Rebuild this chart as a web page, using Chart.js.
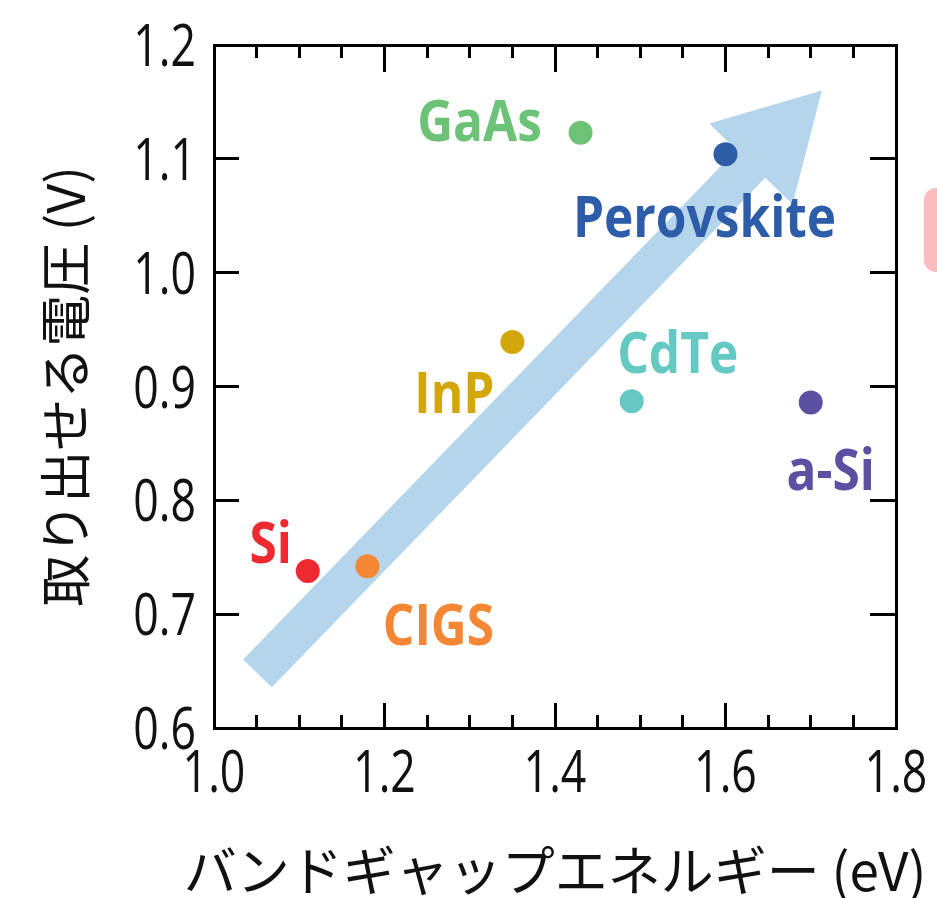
<!DOCTYPE html>
<html>
<head>
<meta charset="utf-8">
<script src="https://cdn.jsdelivr.net/npm/chart.js@4.4.1/dist/chart.umd.min.js"></script>
<style>
body { margin: 0; background: #fff; }
#wrap { position: relative; width: 937px; height: 898px; overflow: hidden; }
#tab { position: absolute; left: 924px; top: 188px; width: 40px; height: 84px; background: #fbbcc0; border-radius: 12px; }
</style>
</head>
<body>
<div id="wrap">
	<canvas id="myChart" width="937" height="898"></canvas>
	<div id="tab"></div>
</div>
<script>
// data
const materials = ['Si', 'CIGS', 'InP', 'GaAs', 'CdTe', 'Perovskite', 'a-Si'];
const bandGap = [1.11, 1.18, 1.35, 1.43, 1.49, 1.60, 1.70];
const voltage = [0.738, 0.742, 0.939, 1.123, 0.887, 1.104, 0.886];

const xTicks = [1.0, 1.2, 1.4, 1.6, 1.8];
const xMinorTicks = [1.0, 1.05, 1.1, 1.15, 1.2, 1.25, 1.3, 1.35, 1.4, 1.45, 1.5, 1.55, 1.6, 1.65, 1.7, 1.75, 1.8];
const yTicks = [0.6, 0.7, 0.8, 0.9, 1.0, 1.1, 1.2];

// arrow from / to, in axis units
const arrowFrom = [1.051, 0.648];
const arrowTo = [1.713, 1.16];

const xTitle = 'バンドギャップエネルギー (eV)';
const yTitle = '取り出せる電圧 (V)';

// styles
const dotColors = ['#ee2a30', '#f58634', '#d3a70a', '#6cc276', '#64c8c3', '#2d5ca9', '#5c50a2'];
// label offset from its dot: [center x, baseline y] in px
const labelOffsets = [[-37, -8], [71, 79], [-58, 71], [-101, 8], [46, -28], [-21, 83], [20, 88]];

const ink = '#111';
const tickFontStr = '58px "Open Sans", sans-serif';
const tickSquash = 0.77;
const labelFontStr = 'bold 58px "Open Sans", sans-serif';
const labelSquash = 0.855;

const ctx = document.getElementById('myChart');

const arrowPlugin = {
	id: 'arrow',
	beforeDatasetsDraw(chart) {
		const c = chart.ctx;
		const x = chart.scales.x, y = chart.scales.y;
		const x0 = x.getPixelForValue(arrowFrom[0]), y0 = y.getPixelForValue(arrowFrom[1]);
		const x1 = x.getPixelForValue(arrowTo[0]), y1 = y.getPixelForValue(arrowTo[1]);
		const len = Math.hypot(x1 - x0, y1 - y0);
		const ux = (x1 - x0) / len, uy = (y1 - y0) / len;
		const nx = -uy, ny = ux;
		const shaft = 20, head = 58, headLen = 102;
		const bx = x1 - ux * headLen, by = y1 - uy * headLen;
		c.save();
		c.fillStyle = '#b4d5eb';
		c.beginPath();
		c.moveTo(x0 + nx * shaft, y0 + ny * shaft);
		c.lineTo(bx + nx * shaft, by + ny * shaft);
		c.lineTo(bx + nx * head, by + ny * head);
		c.lineTo(x1, y1);
		c.lineTo(bx - nx * head, by - ny * head);
		c.lineTo(bx - nx * shaft, by - ny * shaft);
		c.lineTo(x0 - nx * shaft, y0 - ny * shaft);
		c.closePath();
		c.fill();
		c.restore();
	}
};

// squashed text, the reference font is a narrow one
function narrowText(c, txt, x, y, squash) {
	c.save();
	c.translate(x, y);
	c.scale(squash, 1);
	c.fillText(txt, 0, 0);
	c.restore();
}

const labelPlugin = {
	id: 'dotLabels',
	afterDatasetsDraw(chart) {
		const c = chart.ctx;
		const meta = chart.getDatasetMeta(0);
		c.save();
		c.font = labelFontStr;
		c.textAlign = 'center';
		c.textBaseline = 'alphabetic';
		for (let i = 0; i < materials.length; i++) {
			const p = meta.data[i];
			c.fillStyle = dotColors[i];
			narrowText(c, materials[i], p.x + labelOffsets[i][0], p.y + labelOffsets[i][1], labelSquash);
		}
		c.restore();
	}
};

const tickLabelPlugin = {
	id: 'tickLabels',
	afterDraw(chart) {
		const c = chart.ctx;
		const x = chart.scales.x, y = chart.scales.y;
		c.save();
		c.font = tickFontStr;
		c.fillStyle = ink;
		c.textBaseline = 'alphabetic';
		c.textAlign = 'center';
		xTicks.forEach(v => narrowText(c, v.toFixed(1), x.getPixelForValue(v), x.top + 64, tickSquash));
		c.textAlign = 'right';
		yTicks.forEach(v => narrowText(c, v.toFixed(1), y.right - 18, y.getPixelForValue(v) + 21, tickSquash));
		// x title, wider than the plot so drawn here
		c.font = '53px "Noto Sans CJK JP", sans-serif';
		c.textAlign = 'center';
		c.textBaseline = 'middle';
		c.fillText(xTitle, (x.left + x.right) / 2, 871);
		c.restore();
	}
};

function setTicks(list) {
	return function (s) { s.ticks = list.map(v => ({ value: v })); };
}
function noPad(s) { s.paddingLeft = 0; s.paddingRight = 0; s.paddingTop = 0; s.paddingBottom = 0; }

const noGrid = { drawOnChartArea: false, tickColor: '#000', tickWidth: 3 };

new Chart(ctx, {
	type: 'scatter',
	data: {
		datasets: [{
			data: bandGap.map((b, i) => ({ x: b, y: voltage[i] })),
			backgroundColor: dotColors,
			pointRadius: 12,
			pointHoverRadius: 12,
			borderWidth: 0
		}]
	},
	options: {
		responsive: false,
		animation: false,
		layout: { padding: { top: 45, right: 41, bottom: 0, left: 0 } },
		plugins: { legend: { display: false }, tooltip: { enabled: false } },
		scales: {
			x: {
				type: 'linear', position: 'bottom', min: 1.0, max: 1.8,
				afterBuildTicks: setTicks(xTicks),
				ticks: { display: false },
				grid: { ...noGrid, tickLength: -25 },
				border: { color: '#000', width: 3 },
				afterFit(s) { s.height = 170; noPad(s); }
			},
			xMinor: {
				type: 'linear', axis: 'x', position: { y: 0.6 }, min: 1.0, max: 1.8,
				afterBuildTicks: setTicks(xMinorTicks),
				ticks: { display: false },
				grid: { ...noGrid, tickLength: -13 },
				border: { display: false }
			},
			xTop: {
				type: 'linear', axis: 'x', position: { y: 1.2 }, min: 1.0, max: 1.8,
				afterBuildTicks: setTicks(xTicks),
				ticks: { display: false },
				grid: { ...noGrid, tickLength: 25 },
				border: { color: '#000', width: 3 }
			},
			xTopMinor: {
				type: 'linear', axis: 'x', position: { y: 1.2 }, min: 1.0, max: 1.8,
				afterBuildTicks: setTicks(xMinorTicks),
				ticks: { display: false },
				grid: { ...noGrid, tickLength: 13 },
				border: { display: false }
			},
			y: {
				type: 'linear', position: 'left', min: 0.6, max: 1.2,
				afterBuildTicks: setTicks(yTicks),
				ticks: { display: false },
				grid: { ...noGrid, tickLength: -25 },
				border: { color: '#000', width: 3 },
				title: {
					display: true, text: yTitle, color: ink,
					font: { family: '"Noto Sans CJK JP", sans-serif', size: 52, lineHeight: 1 },
					padding: { top: 39, bottom: 0 }
				},
				afterFit(s) { s.width = 214; noPad(s); }
			},
			yRight: {
				type: 'linear', axis: 'y', position: { x: 1.8 }, min: 0.6, max: 1.2,
				afterBuildTicks: setTicks(yTicks),
				ticks: { display: false },
				grid: { ...noGrid, tickLength: 25 },
				border: { color: '#000', width: 3 }
			}
		}
	},
	plugins: [arrowPlugin, labelPlugin, tickLabelPlugin]
});
</script>
</body>
</html>
